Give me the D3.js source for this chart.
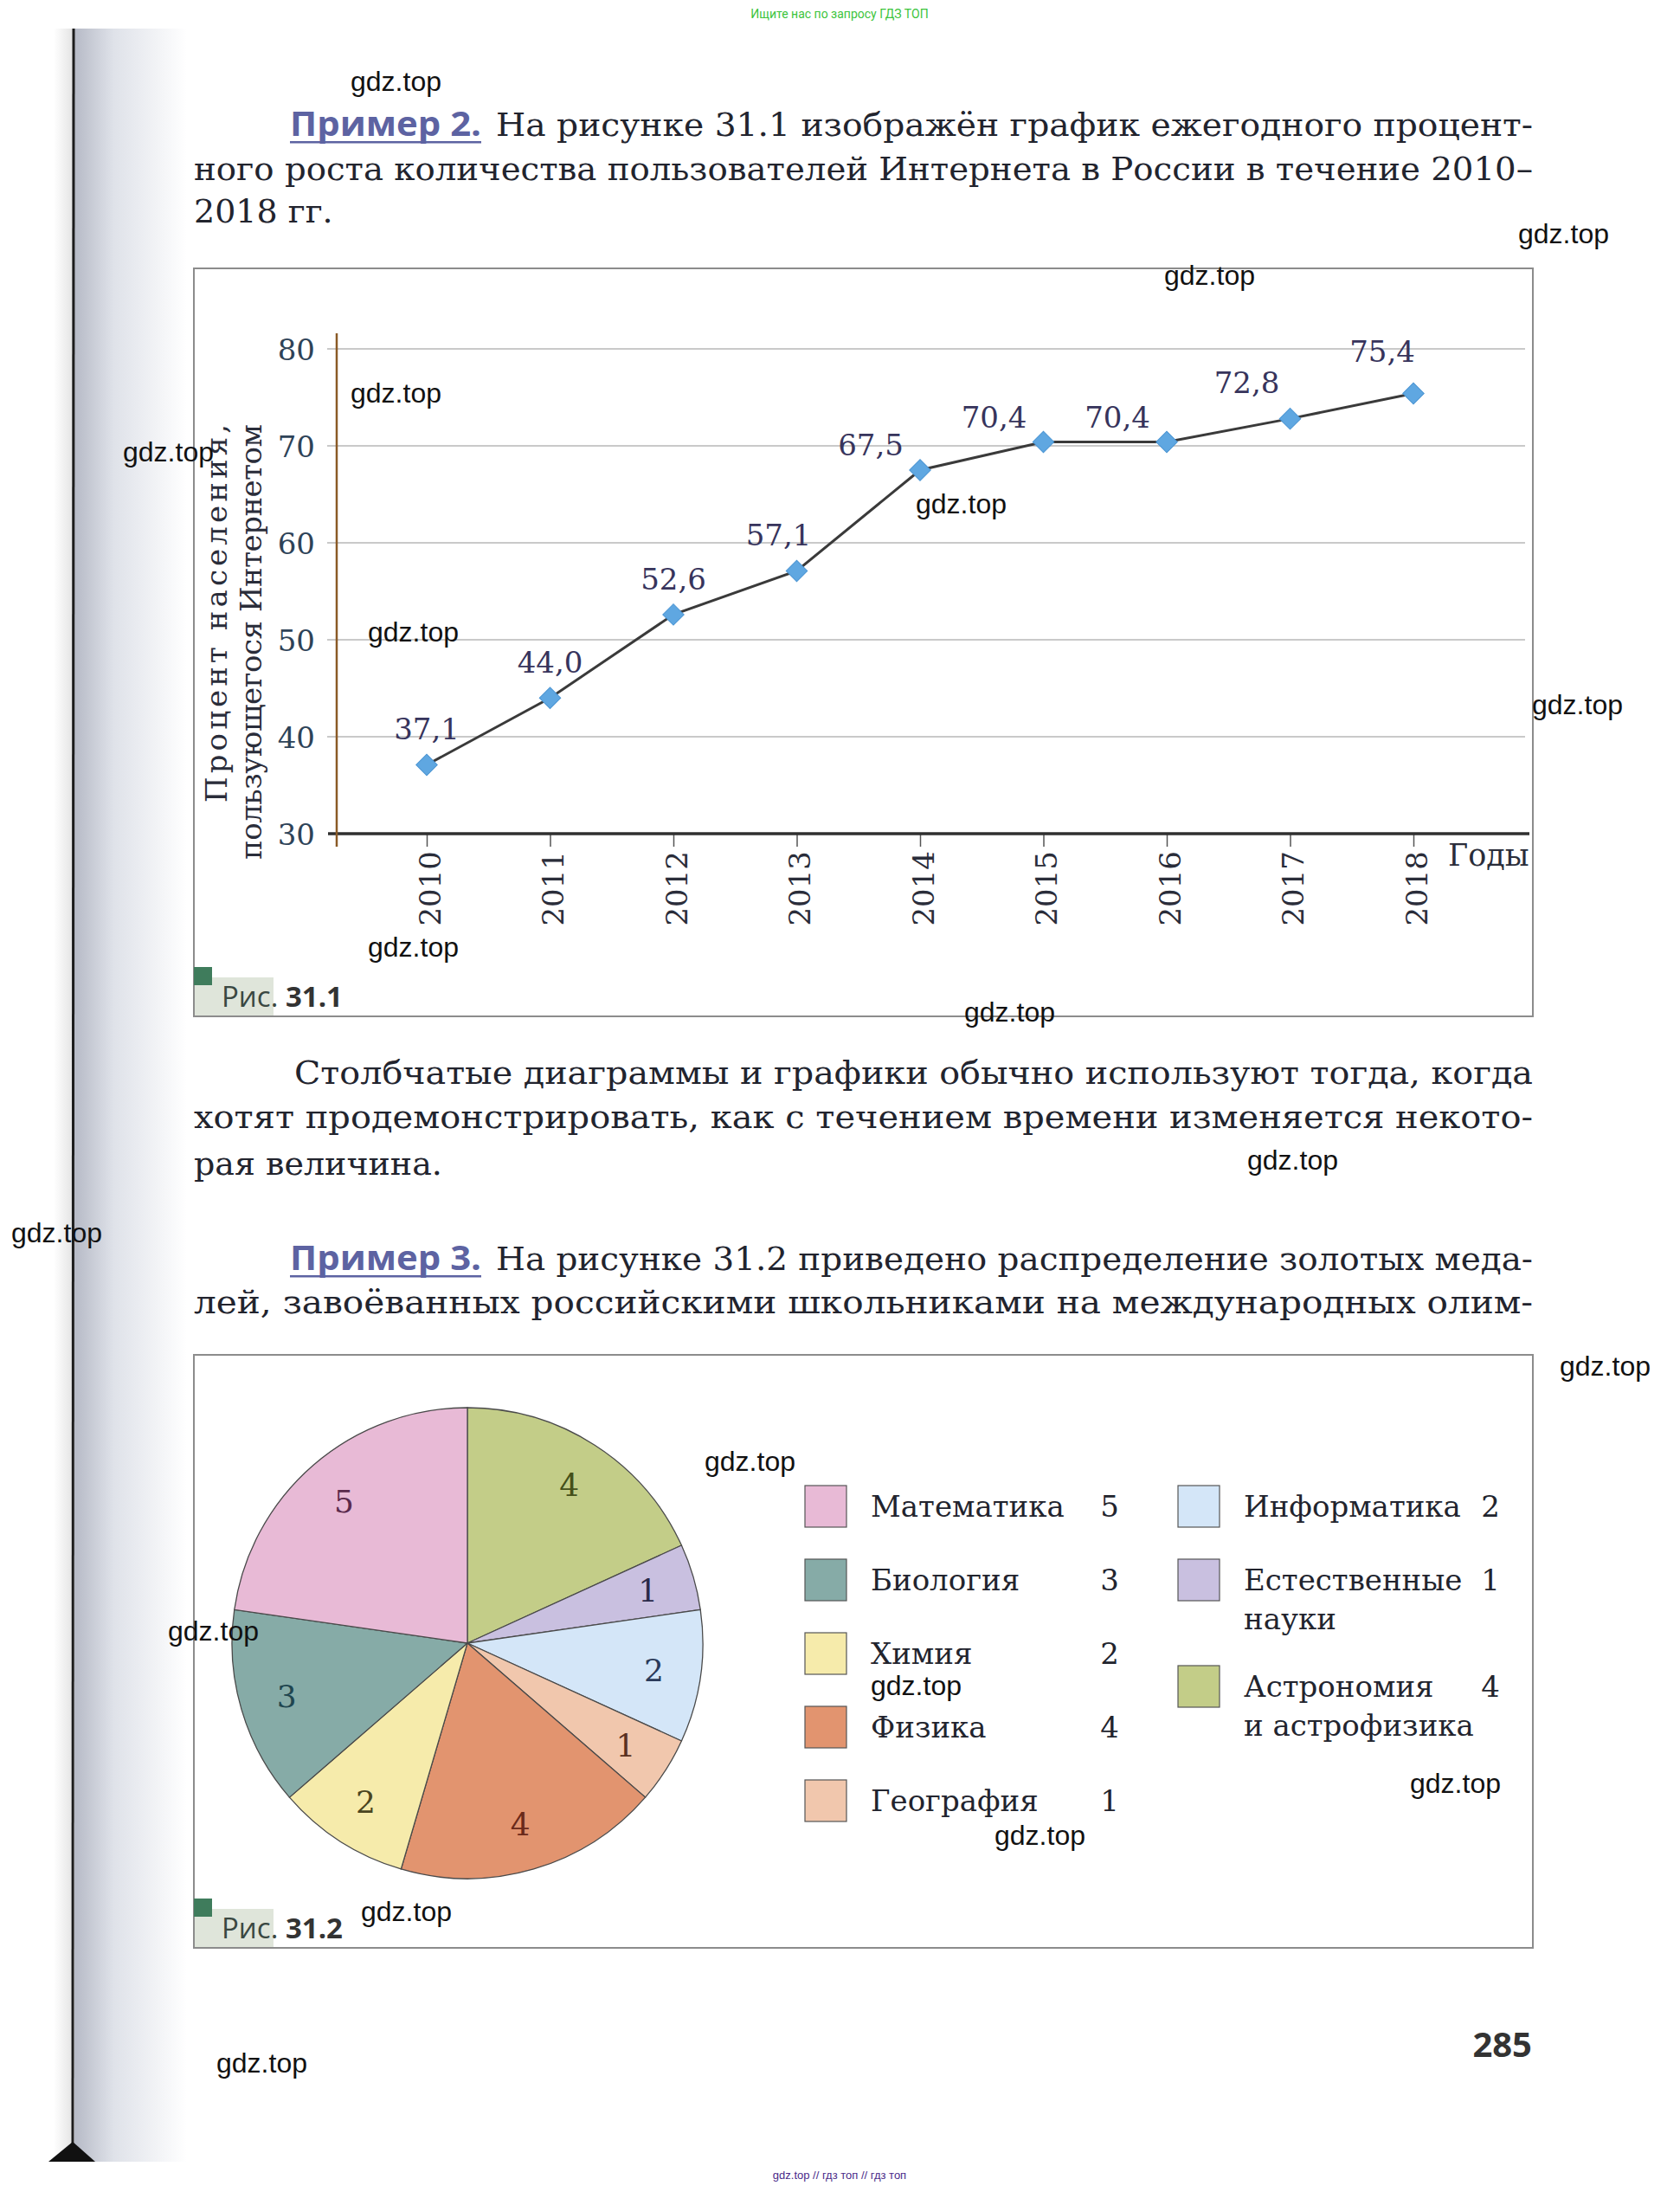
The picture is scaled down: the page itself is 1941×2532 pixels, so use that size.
<!DOCTYPE html>
<html lang="ru">
<head>
<meta charset="UTF-8">
<title>Рис. 31.1 и 31.2</title>
<script src="https://d3js.org/d3.v7.min.js"></script>
<style>
    body { margin: 0; background: #fff; }
    svg { display: block; }
    .serif { font-family: "DejaVu Serif", "Liberation Serif", serif; fill: #2a2d3a; }
    .body { fill: #22242e; }
    .sans { font-family: "Open Sans", "Liberation Sans", sans-serif; }
    .wm { font-family: "Liberation Sans", Arial, sans-serif; font-size: 32px; fill: #111; }
</style>
</head>
<body>
<script>
// ---- data: рис. 31.1 ----
const years = [2010, 2011, 2012, 2013, 2014, 2015, 2016, 2017, 2018];
const share = [37.1, 44.0, 52.6, 57.1, 67.5, 70.4, 70.4, 72.8, 75.4];
const yTicks = [30, 40, 50, 60, 70, 80];

// ---- data: рис. 31.2 ----
const subjects = ["Математика", "Биология", "Химия", "Физика", "География",
                  "Информатика", "Естественные науки", "Астрономия и астрофизика"];
const medals = [5, 3, 2, 4, 1, 2, 1, 4];
const legendLines = [["Математика"], ["Биология"], ["Химия"], ["Физика"], ["География"],
                     ["Информатика"], ["Естественные", "науки"], ["Астрономия", "и астрофизика"]];
// порядок секторов по часовой стрелке от верха
const pieOrder = ["Астрономия и астрофизика", "Естественные науки", "Информатика", "География",
                  "Физика", "Химия", "Биология", "Математика"];
const sliceColors = ["#e8bad6", "#86aba7", "#f6ebab", "#e2946f", "#f1c7ad", "#d4e6f8", "#c9c0e0", "#c3cd88"];
const labelColors = ["#5a2a4c", "#1f4650", "#4a4520", "#6a2a1a", "#5a3020", "#2a3a5a", "#2a2a4a", "#45501a"];

const W = 1941, H = 2532;
const svg = d3.select("body").append("svg").attr("width", W).attr("height", H);

// page + binding shadow
const defs = svg.append("defs");
const g1 = defs.append("linearGradient").attr("id", "bind").attr("x1", 0).attr("x2", 1);
g1.append("stop").attr("offset", 0).attr("stop-color", "#b6bac6");
g1.append("stop").attr("offset", 0.35).attr("stop-color", "#dfe2e9");
g1.append("stop").attr("offset", 1).attr("stop-color", "#ffffff");
const g2 = defs.append("linearGradient").attr("id", "bindL").attr("x1", 0).attr("x2", 1);
g2.append("stop").attr("offset", 0).attr("stop-color", "#ffffff");
g2.append("stop").attr("offset", 1).attr("stop-color", "#e4e4e4");

svg.append("rect").attr("width", W).attr("height", H).attr("fill", "#fff");
svg.append("rect").attr("x", 62).attr("y", 33).attr("width", 22).attr("height", 2464).attr("fill", "url(#bindL)");
svg.append("rect").attr("x", 86).attr("y", 33).attr("width", 130).attr("height", 2464).attr("fill", "url(#bind)");
svg.append("line").attr("x1", 85).attr("x2", 84).attr("y1", 33).attr("y2", 2497)
    .attr("stroke", "#1c1c1c").attr("stroke-width", 3);
svg.append("path").attr("d", "M56,2497L110,2497L84,2474Z").attr("fill", "#111");

// small site lines
svg.append("text").attr("x", 970).attr("y", 21).attr("text-anchor", "middle")
    .style("font-family", "Roboto, sans-serif").style("font-size", "14px").style("fill", "#3cc43c")
    .text("Ищите нас по запросу ГДЗ ТОП");
svg.append("text").attr("x", 970).attr("y", 2517).attr("text-anchor", "middle")
    .style("font-family", "'Liberation Sans', sans-serif").style("font-size", "13px").style("fill", "#4a2a8a")
    .text("gdz.top // гдз топ // гдз топ");

// ---- paragraphs ----
const LEFT = 224, RIGHT = 1771;
function textLine(x, y, str, width) {
    const t = svg.append("text").attr("class", "serif body").attr("x", x).attr("y", y)
        .style("font-size", "38px").text(str);
    if (width) t.attr("textLength", width).attr("lengthAdjust", "spacingAndGlyphs");
    return t;
}
function example(y, label, rest) {
    svg.append("text").attr("class", "sans").attr("x", 335).attr("y", y)
        .attr("textLength", 221).attr("lengthAdjust", "spacingAndGlyphs")
        .style("font-size", "40px").style("font-weight", 700).style("fill", "#5d63a2")
        .text(label);
    svg.append("rect").attr("x", 335).attr("y", y + 6).attr("width", 221).attr("height", 2.5)
        .attr("fill", "#5d63a2");
    textLine(573, y, rest, RIGHT - 573);
}

example(157, "Пример 2.", "На рисунке 31.1 изображён график ежегодного процент-");
textLine(LEFT, 208, "ного роста количества пользователей Интернета в России в течение 2010–", RIGHT - LEFT);
textLine(LEFT, 257, "2018 гг.");

textLine(340, 1252, "Столбчатые диаграммы и графики обычно используют тогда, когда", RIGHT - 340);
textLine(LEFT, 1303, "хотят продемонстрировать, как с течением времени изменяется некото-", RIGHT - LEFT);
textLine(LEFT, 1357, "рая величина.");

example(1467, "Пример 3.", "На рисунке 31.2 приведено распределение золотых меда-");
textLine(LEFT, 1517, "лей, завоёванных российскими школьниками на международных олим-", RIGHT - LEFT);

// figure frames and captions
function frame(y0, y1, caption) {
    svg.append("rect").attr("x", 224).attr("y", y0).attr("width", 1547).attr("height", y1 - y0)
        .attr("fill", "none").attr("stroke", "#8c8c8c").attr("stroke-width", 2);
    svg.append("rect").attr("x", 225).attr("y", y1 - 45).attr("width", 91).attr("height", 44)
        .attr("fill", "#dfe5da");
    svg.append("rect").attr("x", 224).attr("y", y1 - 57).attr("width", 21).attr("height", 21)
        .attr("fill", "#3f7c5c");
    const t = svg.append("text").attr("class", "sans").attr("x", 256).attr("y", y1 - 11)
        .style("font-size", "33px").style("fill", "#3a4842");
    t.append("tspan").text("Рис. ");
    t.append("tspan").style("font-weight", 700).style("fill", "#333").text(caption);
}
frame(310, 1174, "31.1");
frame(1565, 2250, "31.2");

// ---- рис. 31.1: line chart ----
const x = d3.scaleLinear().domain([2010, 2018]).range([493, 1633]);
const y = d3.scaleLinear().domain([30, 80]).range([963, 403]);
const fmt = d3.formatLocale({ decimal: ",", thousands: " ", grouping: [3], currency: ["", ""] }).format(".1f");
const chart = svg.append("g");

chart.selectAll(".grid").data(yTicks.filter(d => d > 30)).join("line")
    .attr("x1", 378).attr("x2", 1762)
    .attr("y1", d => y(d)).attr("y2", d => y(d))
    .attr("stroke", "#b7b7b7").attr("stroke-width", 1.6);

const yAxis = chart.append("g").attr("transform", "translate(389,0)")
    .call(d3.axisLeft(y).tickValues(yTicks).tickSize(0).tickPadding(25));
yAxis.select(".domain").remove();
yAxis.selectAll("text").attr("class", "serif").style("font-size", "34px").style("fill", "#2e4358")
    .attr("dy", "0.36em");

const xAxis = chart.append("g").attr("transform", `translate(0,${y(30)})`)
    .call(d3.axisBottom(x).tickValues(years).tickFormat(d3.format("d")).tickSize(15));
xAxis.select(".domain").remove();
xAxis.selectAll(".tick line").attr("stroke", "#555").attr("stroke-width", 1.5);
xAxis.selectAll("text").attr("class", "serif").style("font-size", "34px").style("fill", "#2a2d3a")
    .attr("transform", "rotate(-90)").attr("x", -20).attr("y", 0).attr("dy", "0.45em")
    .style("text-anchor", "end");

chart.append("line").attr("x1", 379).attr("x2", 1767).attr("y1", y(30)).attr("y2", y(30))
    .attr("stroke", "#2f2f2f").attr("stroke-width", 3.5);
chart.append("line").attr("x1", 389).attr("x2", 389).attr("y1", 385).attr("y2", 978)
    .attr("stroke", "#8a5a26").attr("stroke-width", 2.5);

chart.append("text").attr("class", "serif").attr("x", 1673).attr("y", 1000)
    .style("font-size", "35px").text("Годы");

// y title (two lines, rotated)
[["Процент населения,", 262, 437], ["пользующегося Интернетом", 302, 503]].forEach(([s, tx, len]) => {
    chart.append("text").attr("class", "serif")
        .attr("transform", `translate(${tx},490) rotate(-90)`)
        .attr("text-anchor", "end").attr("textLength", len).attr("lengthAdjust", "spacing")
        .style("font-size", "34px").text(s);
});

const pts = years.map((yr, i) => ({ yr, v: share[i], i }));
chart.append("path").datum(pts)
    .attr("d", d3.line().x(d => x(d.yr)).y(d => y(d.v)))
    .attr("fill", "none").attr("stroke", "#3a3a3a").attr("stroke-width", 3);

chart.selectAll(".mk").data(pts).join("path")
    .attr("d", d3.symbol(d3.symbolSquare, 300))
    .attr("transform", d => `translate(${x(d.yr)},${y(d.v)}) rotate(45)`)
    .attr("fill", "#5fa7e1").attr("stroke", "#4b95d3").attr("stroke-width", 1);

function labelOffset(i) {
    if (i < 3) return [0, -29];
    if (i === 3) return [-21, -29];
    if (i === 7) return [-50, -30];
    if (i === 8) return [-36, -37];
    return [-57, -17];
}
chart.selectAll(".lbl").data(pts).join("text")
    .attr("class", "serif").attr("text-anchor", "middle")
    .attr("x", d => x(d.yr) + labelOffset(d.i)[0])
    .attr("y", d => y(d.v) + labelOffset(d.i)[1])
    .style("font-size", "34px").style("fill", "#37345c")
    .text(d => fmt(d.v));

// ---- рис. 31.2: pie ----
const color = d3.scaleOrdinal().domain(subjects).range(sliceColors);
const labelColor = d3.scaleOrdinal().domain(subjects).range(labelColors);
const pieData = pieOrder.map(name => ({ name, value: medals[subjects.indexOf(name)] }));
const R = 272;
const pieG = svg.append("g").attr("transform", "translate(540,1898)");
const arcs = d3.pie().sort(null).value(d => d.value)(pieData);
pieG.selectAll("path").data(arcs).join("path")
    .attr("d", d3.arc().innerRadius(0).outerRadius(R))
    .attr("fill", d => color(d.data.name))
    .attr("stroke", "#4a4a4a").attr("stroke-width", 1.3);
const labelArc = d3.arc().innerRadius(R * 0.8).outerRadius(R * 0.8);
pieG.selectAll("text").data(arcs).join("text")
    .attr("class", "serif").attr("text-anchor", "middle").attr("dy", "0.36em")
    .attr("transform", d => `translate(${labelArc.centroid(d)})`)
    .style("font-size", "36px").style("fill", d => labelColor(d.data.name))
    .text(d => d.data.value);

// legend
const legend = svg.append("g");
const colX = [930, 1361], numX = [1282, 1722];
let rowY = [1716, 1716];
subjects.forEach((name, i) => {
    const c = i < 5 ? 0 : 1;
    const top = rowY[c];
    const g = legend.append("g");
    g.append("rect").attr("x", colX[c]).attr("y", top).attr("width", 48).attr("height", 48)
        .attr("fill", color(name)).attr("stroke", "#555").attr("stroke-width", 1.2);
    legendLines[i].forEach((ln, k) => {
        g.append("text").attr("class", "serif body").attr("x", colX[c] + 76).attr("y", top + 36 + k * 45)
            .style("font-size", "34px").text(ln);
    });
    g.append("text").attr("class", "serif body").attr("x", numX[c]).attr("y", top + 36)
        .attr("text-anchor", "middle").style("font-size", "34px").text(medals[i]);
    rowY[c] = top + 85 + (legendLines[i].length - 1) * 38;
});

// page number
svg.append("text").attr("class", "sans").attr("x", 1770).attr("y", 2376).attr("text-anchor", "end")
    .style("font-size", "40px").style("font-weight", 700).style("fill", "#333").text("285");

// watermarks
const marks = [[405, 105], [1754, 281], [1345, 329], [405, 465], [142, 533], [1058, 593],
               [425, 741], [1770, 825], [425, 1105], [1114, 1180], [1441, 1351], [13, 1435],
               [1802, 1589], [814, 1699], [194, 1895], [1006, 1958], [1629, 2071], [1149, 2131],
               [417, 2219], [250, 2394]];
svg.append("g").selectAll("text").data(marks).join("text")
    .attr("class", "wm").attr("x", d => d[0]).attr("y", d => d[1]).text("gdz.top");
</script>
</body>
</html>
